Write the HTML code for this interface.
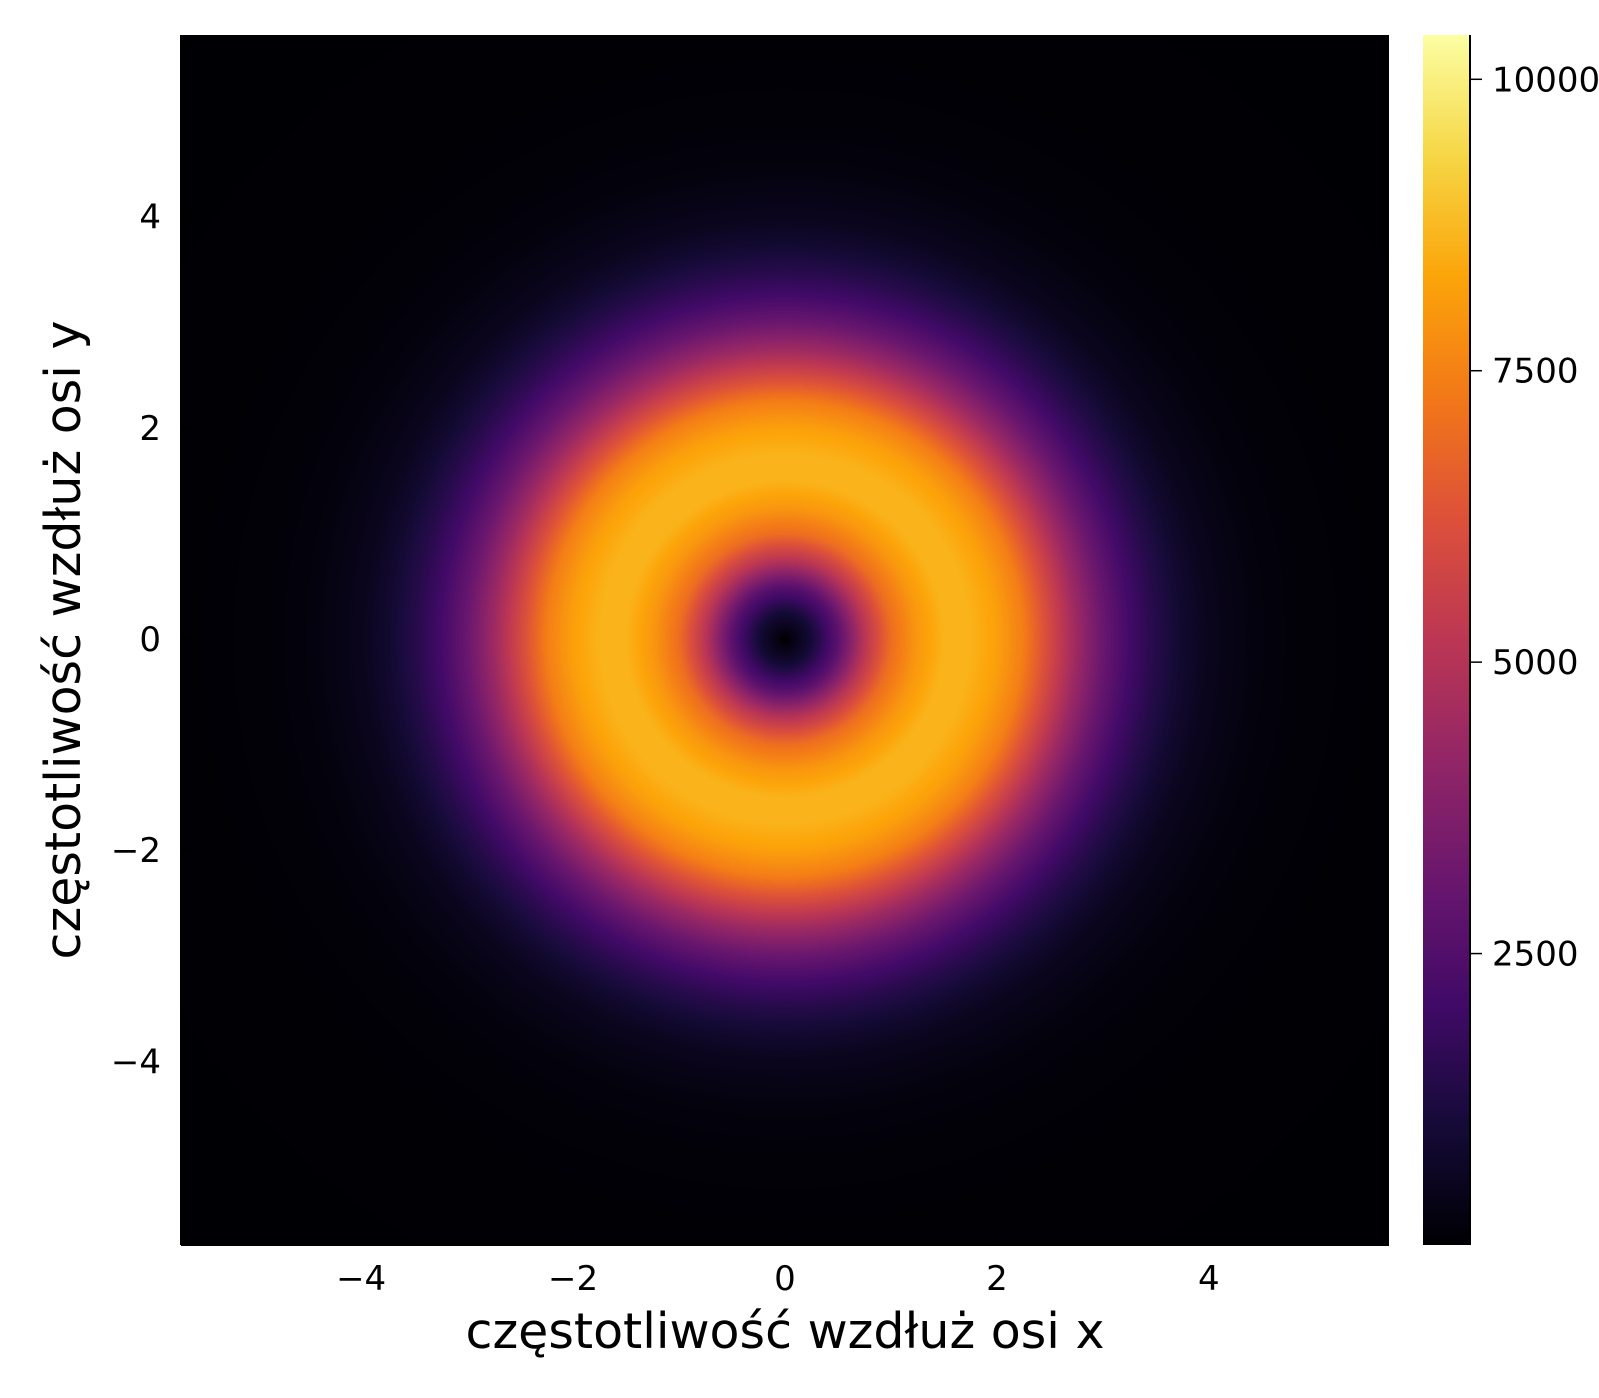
<!DOCTYPE html>
<html><head><meta charset="utf-8">
<style>
html,body{margin:0;padding:0;background:#fff;}
body{width:1599px;height:1398px;position:relative;overflow:hidden;font-family:"DejaVu Sans","Liberation Sans",sans-serif;}
svg{position:absolute;left:0;top:0;}
canvas{position:absolute;}
</style></head>
<body>
<canvas id="heat" width="1208" height="1210" style="left:181px;top:35px;width:1208px;height:1210px"></canvas>
<canvas id="cbar" width="47" height="1210" style="left:1423px;top:35px;width:47px;height:1210px"></canvas>
<svg id="ax" width="1599" height="1398" style="font-family:'DejaVu Sans','Liberation Sans',sans-serif"></svg>
<script>
// radial profile (frequency radius -> count)
const radii  = [0,0.25,0.5,0.75,1.0,1.25,1.5,1.75,2.0,2.25,2.5,2.75,3.0,3.25,3.5,3.75,4.0,4.5,5.0,5.75,8.5];
const counts = [0,1000,2700,5100,7000,8000,8600,8600,8200,7400,5900,4400,3100,2100,1400,850,480,170,60,15,0];
const xTicks = [-4,-2,0,2,4];
const yTicks = [-4,-2,0,2,4];
const cTicks = [2500,5000,7500,10000];
const cMin = 0, cMax = 10380;
const xMin=-5.7, xMax=5.7, yMin=-5.74, yMax=5.72;
const PL=181, PR=1389, PT=35, PB=1245;
const CBL=1423, CBR=1470;
const sx = v => PL + (v-xMin)/(xMax-xMin)*(PR-PL);
const sy = v => PB - (v-yMin)/(yMax-yMin)*(PB-PT);
const cy = v => PB - (v-cMin)/(cMax-cMin)*(PB-PT);
const stops=[[0,0,0,4],[0.1,22,11,57],[0.2,66,10,104],[0.3,106,23,110],[0.4,147,38,103],[0.5,188,55,84],[0.6,221,81,58],[0.7,243,120,25],[0.8,252,165,10],[0.9,246,215,70],[1,252,255,164]];
function cmap(t){t=Math.max(0,Math.min(1,t));for(let i=1;i<stops.length;i++){if(t<=stops[i][0]){const a=stops[i-1],b=stops[i],f=(t-a[0])/(b[0]-a[0]);return [a[1]+f*(b[1]-a[1]),a[2]+f*(b[2]-a[2]),a[3]+f*(b[3]-a[3])];}}return stops[stops.length-1].slice(1);}
function profile(r){for(let i=1;i<radii.length;i++){if(r<=radii[i]){const f=(r-radii[i-1])/(radii[i]-radii[i-1]);return counts[i-1]+f*(counts[i]-counts[i-1]);}}return 0;}
(function(){const c=document.getElementById('heat'),ctx=c.getContext('2d');const W=c.width,H=c.height;const img=ctx.createImageData(W,H);
for(let j=0;j<H;j++){const y=yMax-(j+0.5)/H*(yMax-yMin);for(let i=0;i<W;i++){const x=xMin+(i+0.5)/W*(xMax-xMin);const v=profile(Math.hypot(x,y));const col=cmap((v-cMin)/(cMax-cMin));const k=(j*W+i)*4;img.data[k]=col[0];img.data[k+1]=col[1];img.data[k+2]=col[2];img.data[k+3]=255;}}
ctx.putImageData(img,0,0);})();
(function(){const c=document.getElementById('cbar'),ctx=c.getContext('2d');for(let j=0;j<c.height;j++){const col=cmap(1-(j+0.5)/c.height);ctx.fillStyle=`rgb(${col[0]|0},${col[1]|0},${col[2]|0})`;ctx.fillRect(0,j,c.width,1);}})();
const svg=document.getElementById('ax');const NS='http://www.w3.org/2000/svg';
function mk(tag,attrs,name,txt){const e=document.createElementNS(NS,tag);for(const k in attrs)e.setAttribute(k,attrs[k]);


if(txt!==undefined)e.textContent=txt;svg.appendChild(e);return e;}
mk('line',{x1:PL,y1:PB,x2:PR,y2:PB,stroke:'#000','stroke-width':2},'x-axis-line');
mk('line',{x1:PL,y1:PT,x2:PL,y2:PB,stroke:'#000','stroke-width':2},'y-axis-line');
const fmt=v=>v<0?'\u2212'+(-v):String(v);
xTicks.forEach(v=>{const x=sx(v);mk('line',{x1:x,y1:PB,x2:x,y2:PB-12,stroke:'#000','stroke-width':1.5},'x-tick');
mk('text',{x:x,y:1290,'text-anchor':'middle','font-size':34,fill:'#000'},'x-tick-label',fmt(v));});
yTicks.forEach(v=>{const y=sy(v);mk('line',{x1:PL,y1:y,x2:PL+12,y2:y,stroke:'#000','stroke-width':1.5},'y-tick');
mk('text',{x:161,y:y+12,'text-anchor':'end','font-size':34,fill:'#000'},'y-tick-label',fmt(v));});
mk('line',{x1:CBR,y1:PT,x2:CBR,y2:PB,stroke:'#000','stroke-width':2},'colorbar-axis-line');
cTicks.forEach(v=>{const y=cy(v);mk('line',{x1:CBR,y1:y,x2:CBR+12,y2:y,stroke:'#000','stroke-width':1.5},'colorbar-tick');
mk('text',{x:1492,y:y+12,'font-size':34,fill:'#000'},'colorbar-tick-label',String(v));});
mk('text',{x:785,y:1348,'text-anchor':'middle','font-size':49,fill:'#000'},'x-axis-title','częstotliwość wzdłuż osi x');
mk('text',{x:0,y:0,'text-anchor':'middle','font-size':49,fill:'#000',transform:'translate(80,640) rotate(-90)'},'y-axis-title','częstotliwość wzdłuż osi y');
</script>
</body></html>
